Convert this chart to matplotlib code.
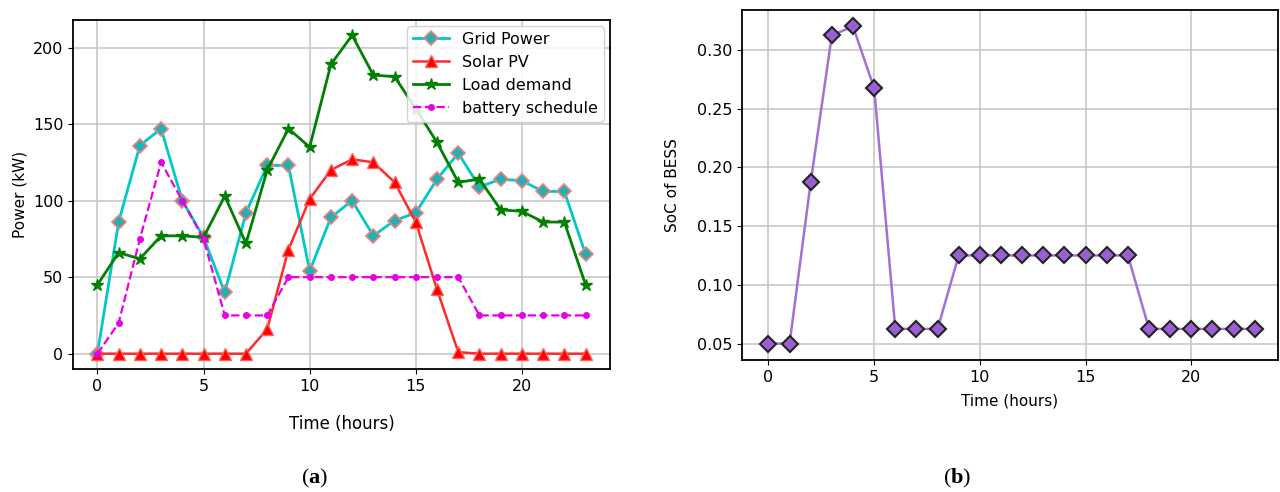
import matplotlib
matplotlib.use("Agg")
import matplotlib.pyplot as plt

hours = list(range(24))
grid_power = [0, 86, 136, 147, 100, 76, 40, 92, 123, 123, 54, 89, 100, 77, 87, 92, 114, 131, 109, 114, 113, 106, 106, 65]
solar_pv = [0, 0, 0, 0, 0, 0, 0, 0, 16, 68, 101, 120, 127, 125, 112, 86, 42, 1, 0, 0, 0, 0, 0, 0]
load_demand = [45, 66, 62, 77, 77, 76, 103, 72, 120, 147, 135, 189, 208, 182, 181, 160, 138, 112, 114, 94, 93, 86, 86, 45]
battery = [0, 20, 75, 125, 100, 75, 25, 25, 25, 50, 50, 50, 50, 50, 50, 50, 50, 50, 25, 25, 25, 25, 25, 25]
soc = [0.05, 0.05, 0.1875, 0.3125, 0.32, 0.2675, 0.0625, 0.0625, 0.0625,
       0.125, 0.125, 0.125, 0.125, 0.125, 0.125, 0.125, 0.125, 0.125,
       0.0625, 0.0625, 0.0625, 0.0625, 0.0625, 0.0625]
yticks_a = [0, 50, 100, 150, 200]
yticks_b = [0.05, 0.10, 0.15, 0.20, 0.25, 0.30]
xticks = [0, 5, 10, 15, 20]

plt.rcParams['font.family'] = ['DejaVu Sans']
plt.rcParams['mathtext.fontset'] = 'custom'
plt.rcParams['mathtext.rm'] = 'Liberation Serif'
plt.rcParams['mathtext.bf'] = 'Liberation Serif:bold'
fig = plt.figure(figsize=(12.8, 4.92), dpi=100)

ax1 = fig.add_axes([73/1280, 1-369/492, (610-73)/1280, (369-20)/492])
ax1.plot(hours, grid_power, color='#00c8c8', lw=2, marker='D', ms=7.5,
         mfc='#20b2b2', mec='#f08080', mew=1.2, label='Grid Power')
ax1.plot(hours, solar_pv, color='#ff2a2a', lw=1.8, marker='^', ms=8,
         mfc='red', mec='#ff6060', label='Solar PV')
ax1.plot(hours, load_demand, color='green', lw=2, marker='*', ms=9,
         label='Load demand')
ax1.plot(hours, battery, color='#e600e6', lw=1.6, ls='--', marker='o', ms=4,
         label='battery schedule')
ax1.set_xticks(xticks)
ax1.set_yticks(yticks_a)
ax1.set_ylim(-10, 218)
ax1.set_xlim(-1.15, 24.15)
ax1.grid(True, color='#c8c8c8', lw=1.2)
ax1.set_axisbelow(True)
ax1.set_xlabel('Time (hours)', fontsize=12, labelpad=15)
ax1.set_ylabel('Power (kW)', fontsize=11)
ax1.tick_params(labelsize=11.5)
leg = ax1.legend(loc='upper right', fontsize=11.5, framealpha=0.85,
                 handlelength=2.3, borderpad=0.35, labelspacing=0.5,
                 borderaxespad=0.4)
for s in ax1.spines.values():
    s.set_linewidth(1.3)

ax2 = fig.add_axes([742/1280, 1-360/492, (1278-742)/1280, (360-10)/492])
ax2.plot(hours, soc, color='#a66fd6', lw=1.8, marker='D', ms=8,
         mfc='#9a5fd0', mec='#222222', mew=1.5)
ax2.set_xticks(xticks)
ax2.set_yticks(yticks_b)
ax2.set_yticklabels(['%.2f' % v for v in yticks_b])
ax2.set_ylim(0.036, 0.334)
ax2.set_xlim(-1.25, 24.1)
ax2.grid(True, color='#c8c8c8', lw=1.2)
ax2.set_axisbelow(True)
ax2.set_xlabel('Time (hours)', fontsize=11, labelpad=6)
ax2.set_ylabel('SoC of BESS', fontsize=11, labelpad=12)
ax2.tick_params(labelsize=11.5)
for s in ax2.spines.values():
    s.set_linewidth(1.3)

fig.text(315/1280, 1-478/492, r'($\mathbf{a}$)', ha='center', va='center',
         fontsize=16, family='Liberation Serif')
fig.text(957/1280, 1-478/492, r'($\mathbf{b}$)', ha='center', va='center',
         fontsize=16, family='Liberation Serif')

fig.savefig('out.png', dpi=100)
